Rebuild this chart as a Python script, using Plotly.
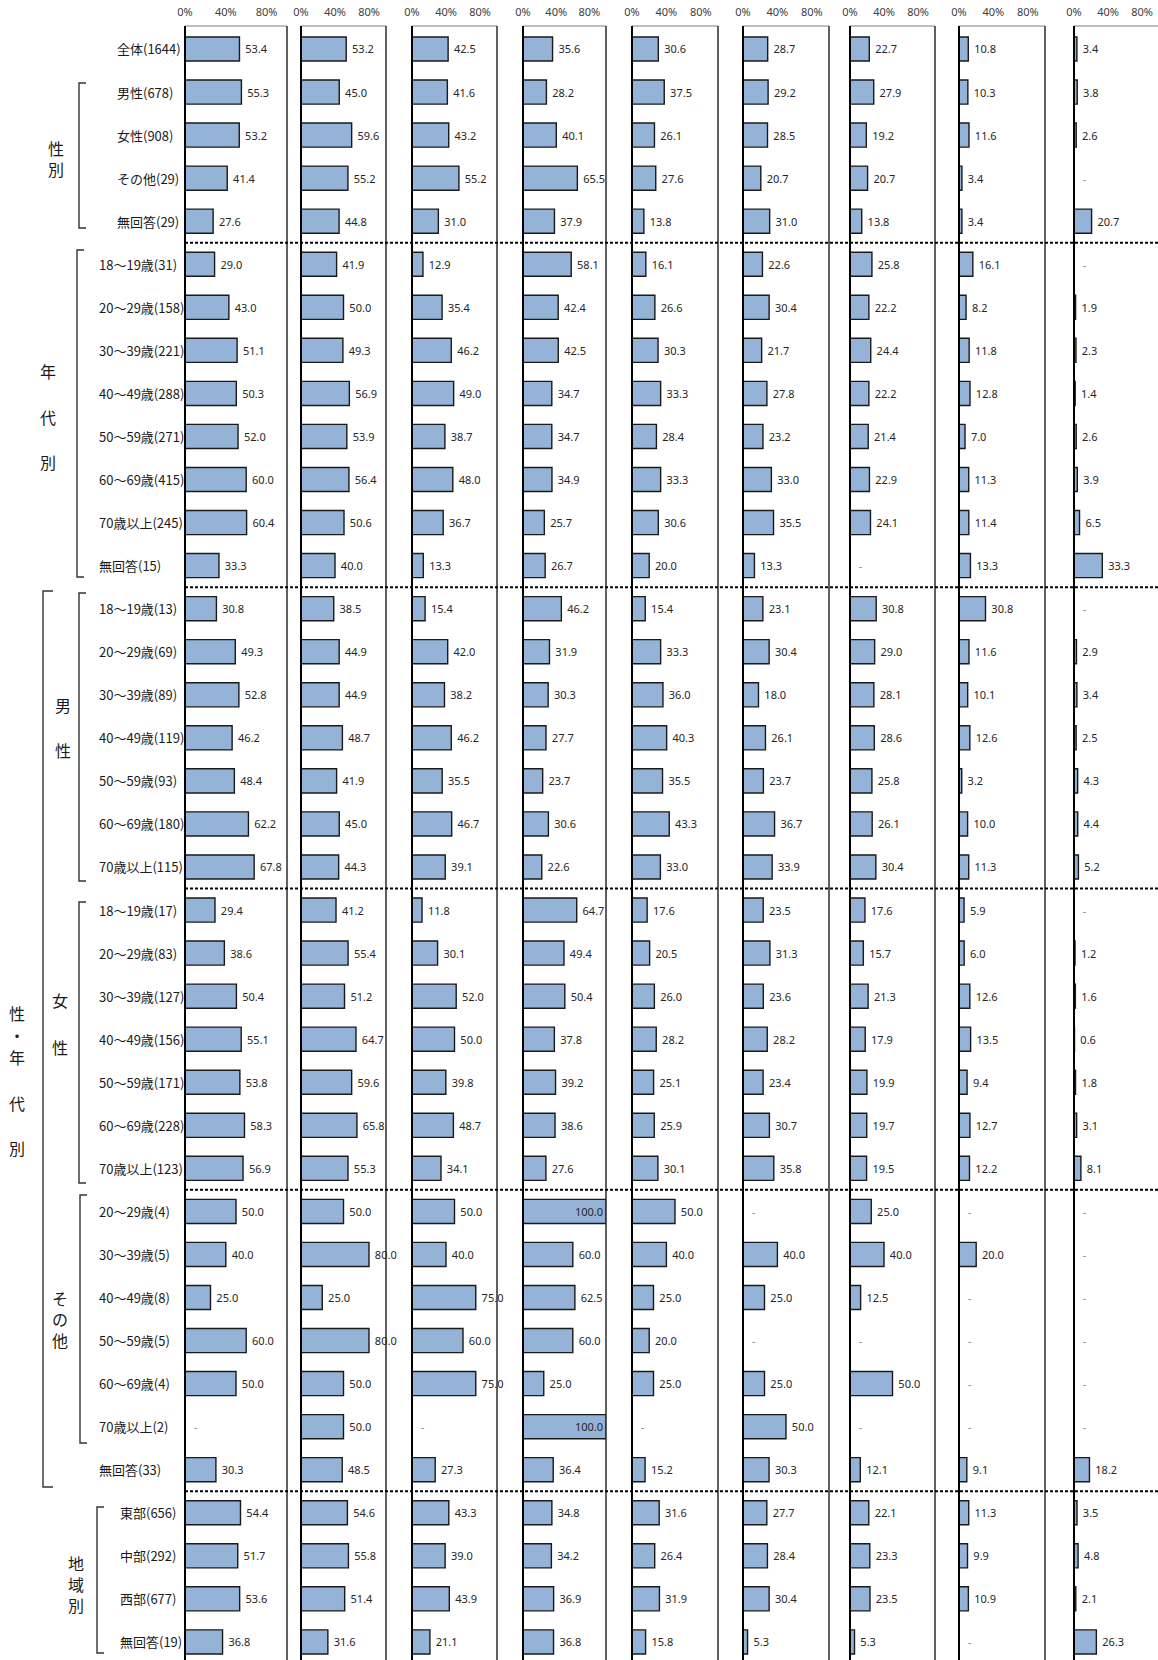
import plotly.graph_objects as go

W, H = 1158, 1660
TOP = 26

rows = [
    "全体(1644)",
    "男性(678)", "女性(908)", "その他(29)", "無回答(29)",
    "18〜19歳(31)", "20〜29歳(158)", "30〜39歳(221)", "40〜49歳(288)",
    "50〜59歳(271)", "60〜69歳(415)", "70歳以上(245)", "無回答(15)",
    "18〜19歳(13)", "20〜29歳(69)", "30〜39歳(89)", "40〜49歳(119)",
    "50〜59歳(93)", "60〜69歳(180)", "70歳以上(115)",
    "18〜19歳(17)", "20〜29歳(83)", "30〜39歳(127)", "40〜49歳(156)",
    "50〜59歳(171)", "60〜69歳(228)", "70歳以上(123)",
    "20〜29歳(4)", "30〜39歳(5)", "40〜49歳(8)", "50〜59歳(5)",
    "60〜69歳(4)", "70歳以上(2)", "無回答(33)",
    "東部(656)", "中部(292)", "西部(677)", "無回答(19)",
]

# None = "-" in the original table
col1 = [53.4, 55.3, 53.2, 41.4, 27.6, 29.0, 43.0, 51.1, 50.3, 52.0, 60.0, 60.4, 33.3,
        30.8, 49.3, 52.8, 46.2, 48.4, 62.2, 67.8, 29.4, 38.6, 50.4, 55.1, 53.8, 58.3, 56.9,
        50.0, 40.0, 25.0, 60.0, 50.0, None, 30.3, 54.4, 51.7, 53.6, 36.8]
col2 = [53.2, 45.0, 59.6, 55.2, 44.8, 41.9, 50.0, 49.3, 56.9, 53.9, 56.4, 50.6, 40.0,
        38.5, 44.9, 44.9, 48.7, 41.9, 45.0, 44.3, 41.2, 55.4, 51.2, 64.7, 59.6, 65.8, 55.3,
        50.0, 80.0, 25.0, 80.0, 50.0, 50.0, 48.5, 54.6, 55.8, 51.4, 31.6]
col3 = [42.5, 41.6, 43.2, 55.2, 31.0, 12.9, 35.4, 46.2, 49.0, 38.7, 48.0, 36.7, 13.3,
        15.4, 42.0, 38.2, 46.2, 35.5, 46.7, 39.1, 11.8, 30.1, 52.0, 50.0, 39.8, 48.7, 34.1,
        50.0, 40.0, 75.0, 60.0, 75.0, None, 27.3, 43.3, 39.0, 43.9, 21.1]
col4 = [35.6, 28.2, 40.1, 65.5, 37.9, 58.1, 42.4, 42.5, 34.7, 34.7, 34.9, 25.7, 26.7,
        46.2, 31.9, 30.3, 27.7, 23.7, 30.6, 22.6, 64.7, 49.4, 50.4, 37.8, 39.2, 38.6, 27.6,
        100.0, 60.0, 62.5, 60.0, 25.0, 100.0, 36.4, 34.8, 34.2, 36.9, 36.8]
col5 = [30.6, 37.5, 26.1, 27.6, 13.8, 16.1, 26.6, 30.3, 33.3, 28.4, 33.3, 30.6, 20.0,
        15.4, 33.3, 36.0, 40.3, 35.5, 43.3, 33.0, 17.6, 20.5, 26.0, 28.2, 25.1, 25.9, 30.1,
        50.0, 40.0, 25.0, 20.0, 25.0, None, 15.2, 31.6, 26.4, 31.9, 15.8]
col6 = [28.7, 29.2, 28.5, 20.7, 31.0, 22.6, 30.4, 21.7, 27.8, 23.2, 33.0, 35.5, 13.3,
        23.1, 30.4, 18.0, 26.1, 23.7, 36.7, 33.9, 23.5, 31.3, 23.6, 28.2, 23.4, 30.7, 35.8,
        None, 40.0, 25.0, None, 25.0, 50.0, 30.3, 27.7, 28.4, 30.4, 5.3]
col7 = [22.7, 27.9, 19.2, 20.7, 13.8, 25.8, 22.2, 24.4, 22.2, 21.4, 22.9, 24.1, None,
        30.8, 29.0, 28.1, 28.6, 25.8, 26.1, 30.4, 17.6, 15.7, 21.3, 17.9, 19.9, 19.7, 19.5,
        25.0, 40.0, 12.5, None, 50.0, None, 12.1, 22.1, 23.3, 23.5, 5.3]
col8 = [10.8, 10.3, 11.6, 3.4, 3.4, 16.1, 8.2, 11.8, 12.8, 7.0, 11.3, 11.4, 13.3,
        30.8, 11.6, 10.1, 12.6, 3.2, 10.0, 11.3, 5.9, 6.0, 12.6, 13.5, 9.4, 12.7, 12.2,
        None, 20.0, None, None, None, None, 9.1, 11.3, 9.9, 10.9, None]
col9 = [3.4, 3.8, 2.6, None, 20.7, None, 1.9, 2.3, 1.4, 2.6, 3.9, 6.5, 33.3,
        None, 2.9, 3.4, 2.5, 4.3, 4.4, 5.2, None, 1.2, 1.6, 0.6, 1.8, 3.1, 8.1,
        None, None, None, None, None, None, 18.2, 3.5, 4.8, 2.1, 26.3]

cols = [col1, col2, col3, col4, col5, col6, col7, col8, col9]
tick_vals = [0, 40, 80]
tick_text = ["0%", "40%", "80%"]

# pixel x of 0% and right edge of each small panel
panel_px = [(185, 287), (301, 386), (412, 497), (523, 606), (632, 718),
            (743, 829), (850, 935), (959, 1045), (1074, 1158)]

BAR = "#95B3D7"
EDGE = "#1a1a1a"


def pxx(x):
    return x / W


def pxy(y):
    return 1 - (y - TOP) / (H - TOP)


fig = go.Figure()

for i, vals in enumerate(cols):
    xs = [v if v is not None else 0 for v in vals]
    txt = ["\u00a0\u00a0-" if v is None
           else (f"{v:.1f}" if v >= 95 else f"\u00a0{v:.1f}") for v in vals]
    pos = ["inside" if (v or 0) >= 95 else "outside" for v in vals]
    tcol = ["#8c8c8c" if v is None else "#262626" for v in vals]
    xa = "x" if i == 0 else f"x{i+1}"
    fig.add_trace(go.Bar(
        x=xs, y=rows, orientation="h", xaxis=xa, yaxis="y",
        text=txt, textposition=pos, insidetextanchor="end",
        textfont=dict(size=11, color=tcol, family="Noto Sans"),
        marker=dict(color=BAR, line=dict(color=EDGE, width=1.4)),
        cliponaxis=False, constraintext="none", showlegend=False,
    ))

layout = dict(
    width=W, height=H,
    margin=dict(l=0, r=0, t=TOP, b=0, autoexpand=False),
    plot_bgcolor="white", paper_bgcolor="white",
    bargap=0.44,
    font=dict(family="Noto Sans CJK JP", color="#1a1a1a"),
    yaxis=dict(type="category", categoryorder="array", categoryarray=rows,
               range=[37.42, -0.534], showticklabels=False, showgrid=False,
               zeroline=False, showline=False, domain=[0, 1]),
)
for i, (l, r) in enumerate(panel_px):
    key = "xaxis" if i == 0 else f"xaxis{i+1}"
    rng_max = 100 if i < 8 else (r - l) / 0.85
    layout[key] = dict(
        domain=[pxx(l), pxx(r)], anchor="y", side="top", range=[0, rng_max],
        tickvals=tick_vals, ticktext=tick_text, showgrid=False, zeroline=False,
        showline=False, ticks="outside", ticklen=5, tickcolor="rgba(0,0,0,0)",
        tickfont=dict(size=11, color="#404040", family="Noto Sans"),
    )
fig.update_layout(**layout)

shapes = []
for i in range(9):
    xr = "x domain" if i == 0 else f"x{i+1} domain"
    shapes.append(dict(type="line", xref=xr, yref="y domain", x0=0, x1=1, y0=1, y1=1,
                       line=dict(color="#808080", width=1.2)))
    shapes.append(dict(type="line", xref=xr, yref="y domain", x0=0, x1=0, y0=-0.01, y1=1,
                       line=dict(color="black", width=2)))
    if i < 8:
        shapes.append(dict(type="line", xref=xr, yref="y domain", x0=1, x1=1, y0=-0.01, y1=1,
                           line=dict(color="#2b2b2b", width=1.5)))

# dotted separators between groups
for idx in [4, 12, 19, 26, 33]:
    shapes.append(dict(type="line", xref="paper", yref="y", x0=pxx(185), x1=1,
                       y0=idx + 0.5, y1=idx + 0.5,
                       line=dict(color="black", width=2, dash="3px,2px")))

# group brackets
brackets = [(79, 83, 228, 7), (77, 250, 577, 7), (43, 591, 1487, 10), (79, 593, 881, 7),
            (79, 902, 1183, 7), (80, 1195, 1443, 7), (97, 1507, 1653, 7)]
for x, y0, y1, t in brackets:
    path = (f"M {pxx(x + t)},{pxy(y0)} L {pxx(x)},{pxy(y0)} "
            f"L {pxx(x)},{pxy(y1)} L {pxx(x + t)},{pxy(y1)}")
    shapes.append(dict(type="path", xref="paper", yref="paper", path=path,
                       line=dict(color="#333333", width=1.4)))
fig.update_layout(shapes=shapes)

# row labels
label_x = [115] * 5 + [97] * 29 + [118] * 4
for name, lx in zip(rows, label_x):
    fig.add_annotation(x=pxx(lx), y=name, xref="paper", yref="y", text=name,
                       xanchor="left", yanchor="middle", showarrow=False,
                       font=dict(size=13, color="#1a1a1a"))

# group titles (vertical); tightly spaced ones are one multi-line text
stacked = [(56, 158, "性<br>別"), (60, 1319, "そ<br>の<br>他"), (76, 1584, "地<br>域<br>別")]
for gx, gy, t in stacked:
    fig.add_annotation(x=pxx(gx), y=pxy(gy), xref="paper", yref="paper", text=t,
                       xanchor="center", yanchor="middle", showarrow=False,
                       font=dict(size=16, color="#1a1a1a"))

spread = [
    (48, [("年", 371), ("代", 417), ("別", 462)]),
    (17, [("性", 1013), ("・", 1035), ("年", 1057), ("代", 1103), ("別", 1148)]),
    (63, [("男", 705), ("性", 750)]),
    (60, [("女", 1000), ("性", 1047)]),
]
for gx, chars in spread:
    for ch, gy in chars:
        fig.add_annotation(x=pxx(gx), y=pxy(gy), xref="paper", yref="paper", text=ch,
                           xanchor="center", yanchor="middle", showarrow=False,
                           font=dict(size=16, color="#1a1a1a"))

fig.write_html("out.html", config={"displayModeBar": False},
               post_script="document.body.style.margin='0px';")
